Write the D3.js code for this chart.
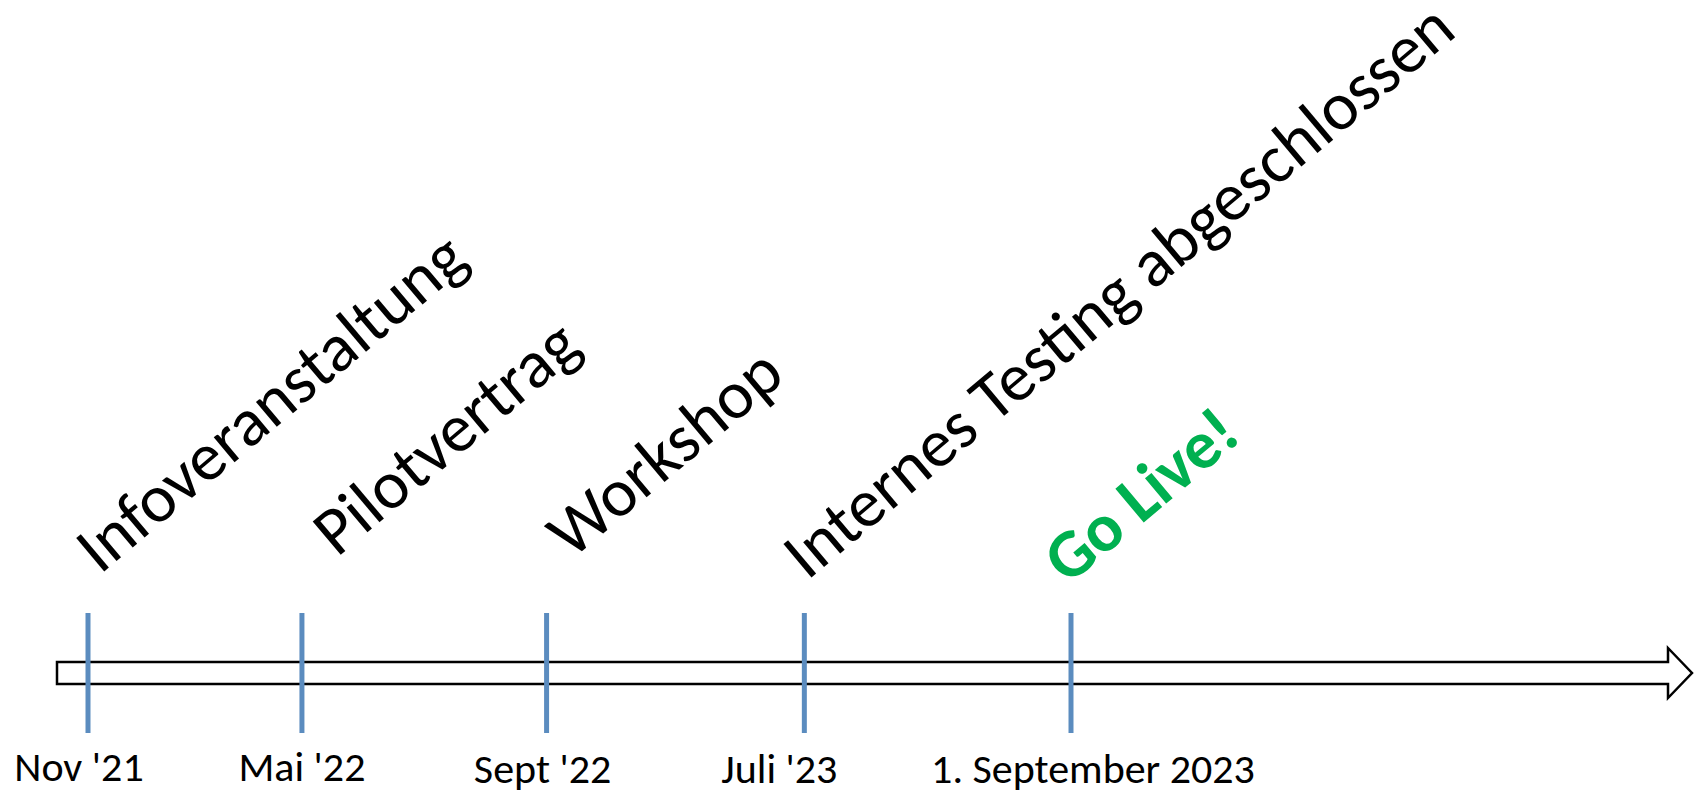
<!DOCTYPE html>
<html>
<head>
<meta charset="utf-8">
<script src="https://cdn.jsdelivr.net/npm/d3@7"></script>
<style>
  body { margin: 0; background: #fff; }
  text { font-family: Carlito, Calibri, Lato, sans-serif; }
</style>
</head>
<body>
<script>
// timeline data
var dates = ["Nov '21", "Mai '22", "Sept '22", "Juli '23", "1. September 2023"];
var events = ["Infoveranstaltung", "Pilotvertrag", "Workshop", "Internes Testing abgeschlossen", "Go Live!"];
var highlight = [false, false, false, false, true];

var width = 1696, height = 795;

let svg = d3.select("body")
            .append("svg")
            .attr("width", width)
            .attr("height", height);

// milestones are not evenly spaced in the original, gaps grow a bit to the right
let x = d3.scalePow()
          .exponent(1.1)
          .domain([0, dates.length - 1])
          .range([88, 1071]);

// small hand nudges so the texts sit like in the slide
var dateShift = [-9, 0, -4, -25, 22];
var dateBase = [781, 781, 783, 783, 783];
var eventShift = [[12, 575], [35, 558], [25, 560], [3, 581], [-3, 586]];

// big outlined arrow
let arrowY = 673, x0 = 57, x1 = 1692, body = 11, head = 25, headLen = 24;
let arrow = d3.line()([
    [x0, arrowY - body], [x1 - headLen, arrowY - body], [x1 - headLen, arrowY - head],
    [x1, arrowY], [x1 - headLen, arrowY + head], [x1 - headLen, arrowY + body],
    [x0, arrowY + body]
]) + "Z";

svg.append("path")
   .attr("d", arrow)
   .attr("fill", "#fff")
   .attr("stroke", "#000")
   .attr("stroke-width", 2.5)
   .attr("stroke-linejoin", "miter");

// tick marks
svg.selectAll(".tick")
   .data(dates)
   .enter().append("line")
   .attr("class", "tick")
   .attr("x1", (d, i) => x(i))
   .attr("x2", (d, i) => x(i))
   .attr("y1", 613)
   .attr("y2", 733)
   .attr("stroke", "#5b8cbf")
   .attr("stroke-width", 5);

// date labels under the arrow
svg.selectAll(".date")
   .data(dates)
   .enter().append("text")
   .attr("class", "date")
   .attr("x", (d, i) => x(i) + dateShift[i])
   .attr("y", (d, i) => dateBase[i])
   .attr("text-anchor", "middle")
   .attr("font-size", 42)
   .attr("fill", "#000")
   .text(d => d);

// rotated event labels
svg.selectAll(".event")
   .data(events)
   .enter().append("text")
   .attr("class", "event")
   .attr("transform", (d, i) => "translate(" + (x(i) + eventShift[i][0]) + "," + eventShift[i][1] + ") rotate(-40)")
   .attr("font-size", 68)
   .attr("font-weight", (d, i) => highlight[i] ? "bold" : "normal")
   .attr("fill", (d, i) => highlight[i] ? "#00b050" : "#000")
   .text(d => d);
</script>
</body>
</html>
